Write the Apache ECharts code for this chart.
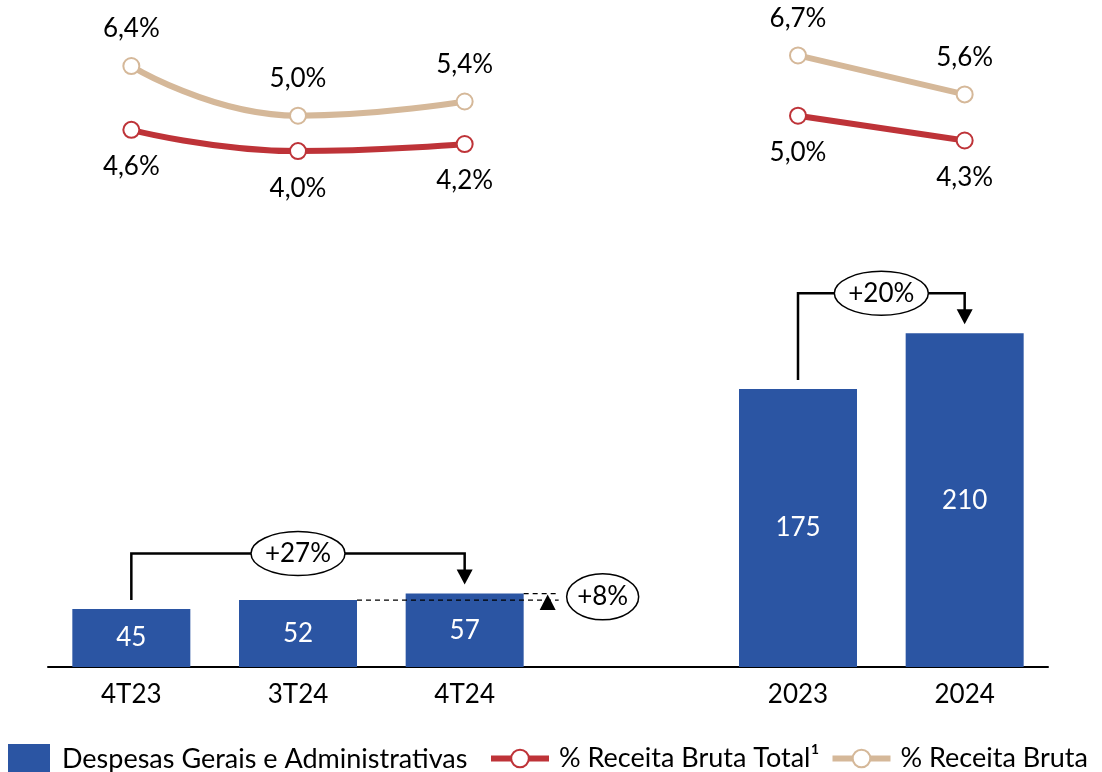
<!DOCTYPE html>
<html>
<head>
<meta charset="utf-8">
<script src="https://cdn.jsdelivr.net/npm/echarts@6/dist/echarts.min.js"></script>
<style>
  html, body { margin: 0; padding: 0; background: #fff; }
  #chart { width: 1102px; height: 772px; }
</style>
</head>
<body>
<div id="chart"></div>
<script>
// categorias (indice 3 = espaco entre trimestres e anos)
const categories = ['4T23', '3T24', '4T24', '', '2023', '2024'];
// despesas G&A (R$ mi) - trimestres e anos em escalas separadas
const despesasTrimestre = [45, 52, 57, null, null, null];
const despesasAno = [null, null, null, null, 175, 210];
// % da receita bruta
const receitaTotal = [4.6, 4.0, 4.2, null, 5.0, 4.3];
const receitaBruta = [6.4, 5.0, 5.4, null, 6.7, 5.6];
// variacoes anotadas
const varTrimAno = '+27%';
const varAno = '+20%';
const varTrim = '+8%';

const FONT = 'Lato';
const BLUE = '#2B55A3';
const RED = '#BE3338';
const BEIGE = '#D5B899';

const fmtPct = (p) => p.value == null ? '' : p.value.toFixed(1).replace('.', ',') + '%';

const chart = echarts.init(document.getElementById('chart'));

const option = {
  backgroundColor: '#fff',
  animation: false,
  textStyle: { fontFamily: FONT },
  grid: [
    { left: 48, right: 54, top: 20, height: 202 },
    { left: 48, right: 54, top: 300, bottom: 105 }
  ],
  xAxis: [
    { type: 'category', gridIndex: 0, data: categories, show: false },
    {
      type: 'category', gridIndex: 1, data: categories,
      axisLine: { lineStyle: { color: '#000', width: 2 } },
      axisTick: { show: false },
      axisLabel: { color: '#000', fontSize: 26, fontFamily: FONT, margin: 15 }
    }
  ],
  yAxis: [
    { type: 'value', gridIndex: 0, min: 2, max: 7.7, show: false },
    { type: 'value', gridIndex: 1, min: 0, max: 285, show: false },
    { type: 'value', gridIndex: 1, min: 0, max: 231, show: false }
  ],
  legend: [
    {
      data: [{ name: 'Despesas Gerais e Administrativas', icon: 'rect' }],
      left: 3, top: 739,
      itemWidth: 42, itemHeight: 31,
      textStyle: { color: '#000', fontSize: 27, fontFamily: FONT, padding: [0, 0, 0, 7] }
    },
    {
      data: ['% Receita Bruta Total¹', '% Receita Bruta'],
      left: 483, top: 740,
      itemWidth: 58, itemHeight: 22, itemGap: 10,
      lineStyle: { width: 6 },
      textStyle: { color: '#000', fontSize: 27, fontFamily: FONT, padding: [0, 0, 0, 5] }
    }
  ],
  series: [
    {
      name: 'Despesas Gerais e Administrativas', type: 'bar',
      xAxisIndex: 1, yAxisIndex: 1, data: despesasTrimestre,
      barWidth: 118, barGap: '-100%',
      itemStyle: { color: BLUE },
      label: { show: true, position: 'inside', color: '#fff', fontSize: 26, fontFamily: FONT }
    },
    {
      name: 'Despesas Gerais e Administrativas', type: 'bar',
      xAxisIndex: 1, yAxisIndex: 2, data: despesasAno,
      barWidth: 118, barGap: '-100%',
      itemStyle: { color: BLUE },
      label: { show: true, position: 'inside', color: '#fff', fontSize: 26, fontFamily: FONT }
    },
    {
      name: '% Receita Bruta Total¹', type: 'line',
      xAxisIndex: 0, yAxisIndex: 0, data: receitaTotal,
      smooth: true, symbol: 'emptyCircle', symbolSize: 16,
      lineStyle: { color: RED, width: 6 },
      itemStyle: { color: RED, borderWidth: 2 },
      label: { show: true, position: 'bottom', distance: 15, color: '#000', fontSize: 26, fontFamily: FONT, formatter: fmtPct }
    },
    {
      name: '% Receita Bruta', type: 'line',
      xAxisIndex: 0, yAxisIndex: 0, data: receitaBruta,
      smooth: true, symbol: 'emptyCircle', symbolSize: 16,
      lineStyle: { color: BEIGE, width: 6 },
      itemStyle: { color: BEIGE, borderWidth: 2 },
      label: { show: true, position: 'top', distance: 15, color: '#000', fontSize: 26, fontFamily: FONT, formatter: fmtPct }
    }
  ]
};

chart.setOption(option);

// anotacoes: colchetes com seta e elipse de variacao
function bubble(cx, cy, rx, ry, txt) {
  return [
    { type: 'ellipse', shape: { cx, cy, rx, ry }, style: { fill: '#fff', stroke: '#000', lineWidth: 1.5 }, z: 10 },
    { type: 'text', x: cx, y: cy, style: { text: txt, fill: '#000', font: '26px ' + FONT, align: 'center', verticalAlign: 'middle' }, z: 11 }
  ];
}

function bracket(s1, i1, v1, s2, i2, v2, txt) {
  const a = chart.convertToPixel({ seriesIndex: s1 }, [i1, v1]);
  const b = chart.convertToPixel({ seriesIndex: s2 }, [i2, v2]);
  const yTop = Math.min(a[1], b[1]) - 40;
  const tip = b[1] - 9;
  return [
    { type: 'polyline', shape: { points: [[a[0], a[1] - 9], [a[0], yTop], [b[0], yTop], [b[0], tip - 14]] },
      style: { stroke: '#000', lineWidth: 2.5, fill: null }, z: 9 },
    { type: 'polygon', shape: { points: [[b[0] - 8, tip - 15], [b[0] + 8, tip - 15], [b[0], tip]] },
      style: { fill: '#000' }, z: 9 }
  ].concat(bubble((a[0] + b[0]) / 2, yTop, 47, 22, txt));
}

const p3 = chart.convertToPixel({ seriesIndex: 0 }, [1, despesasTrimestre[1]]);
const p4 = chart.convertToPixel({ seriesIndex: 0 }, [2, despesasTrimestre[2]]);
const half = 59;
const xEnd = p4[0] + half + 35;
const xTri = p4[0] + half + 24;
const dash = { stroke: '#000', lineWidth: 1.2, lineDash: [5, 4] };

const elements = []
  .concat(bracket(0, 0, despesasTrimestre[0], 0, 2, despesasTrimestre[2], varTrimAno))
  .concat(bracket(1, 4, despesasAno[4], 1, 5, despesasAno[5], varAno))
  .concat([
    { type: 'line', shape: { x1: p3[0] + half, y1: p3[1], x2: xEnd, y2: p3[1] }, style: dash, z: 9 },
    { type: 'line', shape: { x1: p4[0] + half, y1: p4[1], x2: xEnd, y2: p4[1] }, style: dash, z: 9 },
    { type: 'polygon', shape: { points: [[xTri - 8, p3[1] + 10], [xTri + 8, p3[1] + 10], [xTri, p4[1] + 1]] }, style: { fill: '#000' }, z: 9 }
  ])
  .concat(bubble(p4[0] + half + 79, (p3[1] + p4[1]) / 2, 36, 23, varTrim));

chart.setOption({ graphic: { elements } });
</script>
</body>
</html>
